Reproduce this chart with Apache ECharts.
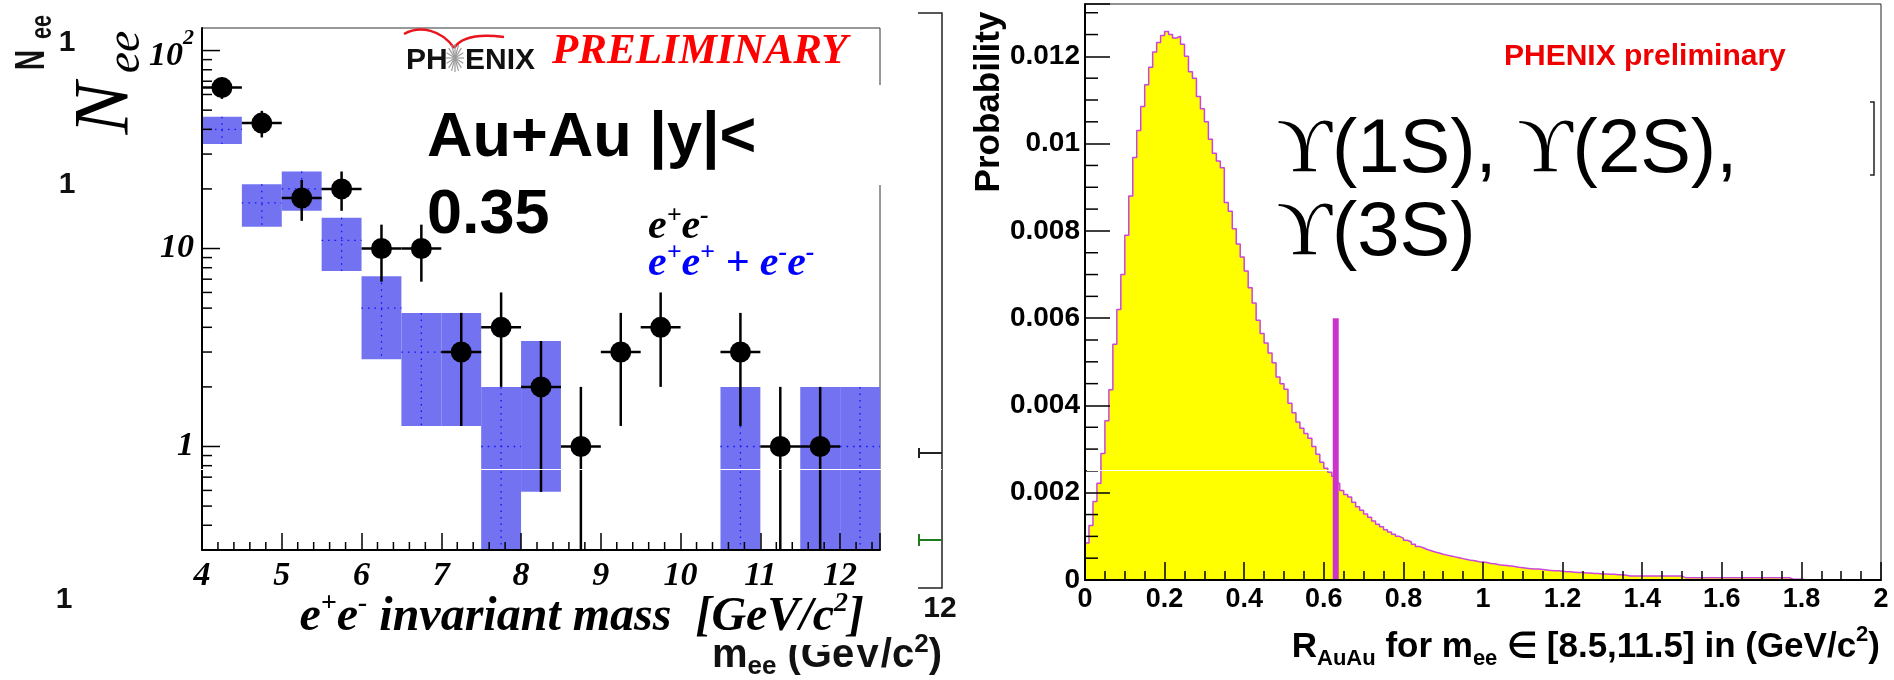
<!DOCTYPE html>
<html>
<head>
<meta charset="utf-8">
<script src="https://cdn.jsdelivr.net/npm/echarts@6/dist/echarts.min.js"></script>
<style>
html,body{margin:0;padding:0;background:#fff;}
#c{width:1894px;height:680px;}
</style>
</head>
<body>
<div id="c"></div>
<script>
// ---------------- Left panel: e+e- invariant mass ----------------
const massPoints = [4.25,4.75,5.25,5.75,6.25,6.75,7.25,7.75,8.25,8.75,9.25,9.75,10.75,11.25,11.75];
const oppositeSignCounts = [65,43,18,20,10,10,3,4,2,1,3,4,3,1,1];
const oppositeSignErrLow = [57,36.4,13.8,15.5,6.8,6.8,1.27,2,0.59,0,1.27,2,1.27,0,0];
const oppositeSignErrHigh = [73,49.6,22.2,24.5,13.2,13.2,4.73,6,3.41,2,4.73,6,4.73,2,2];
const massHalfBin = 0.25;

const likeSignBinLow = [4.0,4.5,5.0,5.5,6.0,6.5,7.0,7.5,8.0,10.5,11.5,12.0];
const likeSignCounts = [40,17,20,11,5,3,3,1,2,1,1,1];
const likeSignBandLow = [33.7,12.9,15.5,7.7,2.76,1.27,1.27,0,0.59,0,0,0];
const likeSignBandHigh = [46.3,21.1,24.5,14.3,7.24,4.73,4.73,2,3.41,2,2,2];
const likeSignBinWidth = 0.5;

const massTickValues = [4,5,6,7,8,9,10,11,12];
const massTickLabels = ['4','5','6','7','8','9','10','11','12'];
const massMinorTicks = [4.2,4.4,4.6,4.8,5.2,5.4,5.6,5.8,6.2,6.4,6.6,6.8,7.2,7.4,7.6,7.8,8.2,8.4,8.6,8.8,
  9.2,9.4,9.6,9.8,10.2,10.4,10.6,10.8,11.2,11.4,11.6,11.8,12.2,12.4];
const countMajorTicks = [1,10,100];
const countTickLabels = ['{b|1}','{b|10}','{b2|10}{s|2}'];
const countMinorTicks = [0.4,0.5,0.6,0.7,0.8,0.9,2,3,4,5,6,7,8,9,20,30,40,50,60,70,80,90];
const countMin = 0.3, countMax = 130;
const massMin = 4, massMax = 12.5;

// ---------------- Right panel: R_AuAu probability ----------------
const raaBinStart = 0, raaBinWidth = 0.01, raaEnd = 2;
const raaProbability = [
  0.00085,0.00125,0.00180,0.00222,0.00290,0.00365,0.00436,0.00540,0.00620,0.00700,
  0.00790,0.00880,0.00968,0.01030,0.01085,0.01135,0.01175,0.01210,0.01232,0.01248,
  0.01257,0.01250,0.01242,0.01246,0.01228,0.01200,0.01165,0.01150,0.01108,0.01080,
  0.01050,0.01010,0.00978,0.00960,0.00945,0.00865,0.00845,0.00805,0.00770,0.00740,
  0.00708,0.00670,0.00635,0.00595,0.00565,0.00543,0.00520,0.00498,0.00465,0.00450,
  0.00437,0.00405,0.00383,0.00362,0.00348,0.00336,0.00325,0.00306,0.00288,0.00270,
  0.00256,0.00247,0.00238,0.00222,0.00205,0.00196,0.00190,0.00178,0.00168,0.00160,
  0.00151,0.00144,0.00135,0.00128,0.00122,0.00115,0.00110,0.00105,0.00100,0.00096,
  0.00091,0.00087,0.00082,0.00077,0.00074,0.00070,0.00067,0.00064,0.00062,0.00059,
  0.00057,0.00055,0.00053,0.00051,0.00049,0.00047,0.00045,0.00044,0.00042,0.00041,
  0.00040,0.00038,0.00037,0.00035,0.00034,0.00033,0.00032,0.00031,0.00029,0.00028,
  0.00027,0.00026,0.00025,0.00025,0.00024,0.00023,0.00022,0.00021,0.00021,0.00020,
  0.00019,0.00019,0.00018,0.00017,0.00017,0.00016,0.00016,0.00015,0.00015,0.00014,
  0.00014,0.00013,0.00013,0.00012,0.00012,0.00011,0.00009,0.00009,0.00009,0.00009,
  0.00009,0.00009,0.00009,0.00009,0.00009,0.00009,0.00009,0.00009,0.00009,0.00009,
  0.00005,0.00005,0.00005,0.00005,0.00005,0.00005,0.00005,0.00005,0.00005,0.00005,
  0.00005,0.00005,0.00005,0.00005,0.00005,0.00005,0.00005,0.00005,0.00005,0.00005,
  0.00005,0.00005,0.00005,0.00005,0.00005,0.00005,0.00005,0.00002,0.00002,0.00002,
  0.000005,0.000005,0.000005,0.000005,0.000005,0.000005,0.000005,0.000005,0.000005,0.000005,
  0.000005,0.000005,0.000005,0.000005,0.000005,0.000005,0.000005,0.000005,0.000005,0.000005
];
const raaCut = 0.63, raaCutHeight = 0.006;
const probMinorTicks = [0.0005,0.001,0.0015,0.0025,0.003,0.0035,0.0045,0.005,0.0055,0.0065,0.007,0.0075,
  0.0085,0.009,0.0095,0.0105,0.011,0.0115,0.0125,0.013];
const probMax = 0.0132, probInterval = 0.002;

// ---------------- rendering ----------------
const SERIF = "'Liberation Serif','Times New Roman',Times,serif";
const SANS = "'Liberation Sans',Arial,Helvetica,sans-serif";

const chart = echarts.init(document.getElementById('c'), null, {renderer: 'canvas'});

function tickSeries(xi, yi, data, dir, len, lw) {
  return {
    type: 'custom', xAxisIndex: xi, yAxisIndex: yi, silent: true, z: 9,
    data: data,
    renderItem: function (params, api) {
      const p = api.coord([api.value(0), api.value(1)]);
      const shape = dir === 'y'
        ? {x1: p[0], y1: p[1], x2: p[0] + len, y2: p[1]}
        : {x1: p[0], y1: p[1], x2: p[0], y2: p[1] - len};
      return {type: 'line', shape: shape, style: {stroke: '#000', lineWidth: lw}};
    }
  };
}

const histData = raaProbability.map((v, i) => [+(raaBinStart + i * raaBinWidth).toFixed(3), v]);
histData.push([raaEnd, raaProbability[raaProbability.length - 1]]);

const ptData = massPoints.map((m, i) => [m, oppositeSignCounts[i], oppositeSignErrLow[i], oppositeSignErrHigh[i]]);
const boxData = likeSignBinLow.map((lo, i) => [lo, likeSignCounts[i], likeSignBandLow[i], likeSignBandHigh[i]]);

const titleT = {fontFamily: SERIF, fontStyle: 'italic', fontWeight: 'bold', fill: '#000'};

const graphicEls = [
  // underlying-figure remnants (far left)
  {type: 'text', x: 32, y: 60, rotation: Math.PI / 2, scaleX: 0.67, z: 60,
    style: {text: 'N', font: 'bold 42px ' + SANS, fill: '#111', align: 'center', verticalAlign: 'middle'}},
  {type: 'text', x: 43, y: 27, rotation: Math.PI / 2, scaleX: 0.72, z: 60,
    style: {text: 'ee', font: 'bold 30px ' + SANS, fill: '#111', align: 'center', verticalAlign: 'middle'}},
  {type: 'text', x: 67, y: 43, z: 55, style: {text: '1', font: 'bold 30px ' + SANS, fill: '#111', align: 'center', verticalAlign: 'middle'}},
  {type: 'text', x: 67, y: 185, z: 55, style: {text: '1', font: 'bold 30px ' + SANS, fill: '#111', align: 'center', verticalAlign: 'middle'}},
  {type: 'text', x: 64, y: 600, z: 65, style: {text: '1', font: 'bold 30px ' + SANS, fill: '#111', align: 'center', verticalAlign: 'middle'}},
  // left y title N_ee
  {type: 'text', x: 106.5, y: 108.5, rotation: Math.PI / 2, z: 60,
    style: {text: 'N', font: 'italic 78px ' + SERIF, fill: '#000', align: 'center', verticalAlign: 'middle'}},
  {type: 'text', x: 126.4, y: 52, rotation: Math.PI / 2, z: 60,
    style: {text: 'ee', font: 'italic 48px ' + SERIF, fill: '#000', align: 'center', verticalAlign: 'middle'}},
  // PHENIX logo
  {type: 'text', x: 406, y: 60.7, z: 60, style: {text: 'PH', font: 'bold 30px ' + SANS, fill: '#111', align: 'left', verticalAlign: 'middle'}},
  {type: 'text', x: 465, y: 60.7, z: 60, style: {text: 'ENIX', font: 'bold 30px ' + SANS, fill: '#111', align: 'left', verticalAlign: 'middle'}},
  {type: 'bezierCurve', z: 60, shape: {x1: 404, y1: 34, cpx1: 420, cpy1: 25, cpx2: 442, cpy2: 30, x2: 454, y2: 48},
    style: {stroke: '#e8141e', lineWidth: 2.5, fill: null}},
  {type: 'bezierCurve', z: 60, shape: {x1: 454, y1: 48, cpx1: 462, cpy1: 36, cpx2: 482, cpy2: 34, x2: 504, y2: 37},
    style: {stroke: '#e8141e', lineWidth: 2.5, fill: null}},
  {type: 'text', x: 552, y: 51.7, z: 60, style: {text: 'PRELIMINARY', font: 'italic bold 43px ' + SERIF, fill: '#ff0000', align: 'left', verticalAlign: 'middle'}},
  // white box + Au+Au label
  {type: 'rect', z: 50, shape: {x: 424, y: 85, width: 462, height: 100}, style: {fill: '#fff'}},
  {type: 'text', x: 427, y: 138.5, z: 60, style: {text: 'Au+Au |y|<', font: 'bold 63px ' + SANS, fill: '#000', align: 'left', verticalAlign: 'middle'}},
  {type: 'text', x: 427, y: 215.5, z: 60, style: {text: '0.35', font: 'bold 63px ' + SANS, fill: '#000', align: 'left', verticalAlign: 'middle'}},
  // legend
  {type: 'text', x: 648, y: 203, z: 60, style: {
    text: '{t|e}{s|+}{t|e}{s|-}', align: 'left', verticalAlign: 'top',
    rich: {
      t: Object.assign({}, titleT, {fontSize: 42, lineHeight: 48, verticalAlign: 'middle'}),
      s: Object.assign({}, titleT, {fontSize: 26, lineHeight: 26, verticalAlign: 'top'})
    }}},
  {type: 'text', x: 648, y: 240, z: 60, style: {
    text: '{t|e}{s|+}{t|e}{s|+}{t| + e}{s|-}{t|e}{s|-}', align: 'left', verticalAlign: 'top',
    rich: {
      t: Object.assign({}, titleT, {fill: '#0000ff', fontSize: 42, lineHeight: 48, verticalAlign: 'middle'}),
      s: Object.assign({}, titleT, {fill: '#0000ff', fontSize: 26, lineHeight: 26, verticalAlign: 'top'})
    }}},
  // underlying second frame remnants
  {type: 'polyline', z: 30, shape: {points: [[918, 13], [942, 13], [942, 588], [918, 588]]}, style: {stroke: '#222', lineWidth: 1.5, fill: null}},
  {type: 'line', z: 30, shape: {x1: 918, y1: 453, x2: 942, y2: 453}, style: {stroke: '#222', lineWidth: 2}},
  {type: 'line', z: 30, shape: {x1: 919, y1: 448, x2: 919, y2: 458}, style: {stroke: '#222', lineWidth: 2}},
  {type: 'line', z: 30, shape: {x1: 918, y1: 540, x2: 942, y2: 540}, style: {stroke: '#1e7b1e', lineWidth: 2}},
  {type: 'line', z: 30, shape: {x1: 919, y1: 534, x2: 919, y2: 546}, style: {stroke: '#1e7b1e', lineWidth: 2}},
  {type: 'text', x: 940, y: 608.7, z: 30, style: {text: '12', font: 'bold 30px ' + SANS, fill: '#111', align: 'center', verticalAlign: 'middle'}},
  {type: 'text', x: 942, y: 631.6, z: 30, style: {
    text: '{a|m}{sb|ee}{a| (GeV/c}{sp|2}{a|)}', align: 'right', verticalAlign: 'top',
    rich: {
      a: {fontFamily: SANS, fontWeight: 'bold', fontSize: 40, lineHeight: 48, verticalAlign: 'middle', fill: '#111'},
      sb: {fontFamily: SANS, fontWeight: 'bold', fontSize: 26, lineHeight: 20, verticalAlign: 'bottom', fill: '#111'},
      sp: {fontFamily: SANS, fontWeight: 'bold', fontSize: 26, lineHeight: 18, verticalAlign: 'top', fill: '#111'}
    }}},
  {type: 'rect', z: 40, shape: {x: 690, y: 596, width: 194, height: 49}, style: {fill: '#fff'}},
  // left x title
  {type: 'text', x: 864, y: 590, z: 60, style: {
    text: '{t|e}{s|+}{t|e}{s|-}{t| invariant mass  [GeV/c}{s|2}{t|]}', align: 'right', verticalAlign: 'top',
    rich: {
      t: Object.assign({}, titleT, {fontSize: 48, lineHeight: 56, verticalAlign: 'middle'}),
      s: Object.assign({}, titleT, {fontSize: 28, lineHeight: 28, verticalAlign: 'top'})
    }}},
  // white scan line artifacts
  {type: 'line', z: 70, shape: {x1: 118, y1: 469.5, x2: 942, y2: 469.5}, style: {stroke: '#fff', lineWidth: 1}},
  {type: 'line', z: 70, shape: {x1: 1087, y1: 470.5, x2: 1333, y2: 470.5}, style: {stroke: '#fff', lineWidth: 1}},
  // right panel texts
  {type: 'text', x: 989, y: 102, rotation: Math.PI / 2, z: 60,
    style: {text: 'Probability', font: 'bold 35px ' + SANS, fill: '#000', align: 'center', verticalAlign: 'middle'}},
  {type: 'text', x: 1504, y: 56.7, z: 60, style: {text: 'PHENIX preliminary', font: 'bold 30px ' + SANS, fill: '#ee0000', align: 'left', verticalAlign: 'middle'}},
  {type: 'text', x: 1277, y: 151.4, z: 60, style: {
    text: '{u|ϒ}{t|(1S), }{u|ϒ}{t|(2S),}', align: 'left', verticalAlign: 'middle',
    rich: {
      u: {fontFamily: SERIF, fontSize: 76, lineHeight: 84, verticalAlign: 'middle', fill: '#000'},
      t: {fontFamily: SANS, fontSize: 76, lineHeight: 84, verticalAlign: 'middle', fill: '#000'}
    }}},
  {type: 'text', x: 1277, y: 234.4, z: 60, style: {
    text: '{u|ϒ}{t|(3S)}', align: 'left', verticalAlign: 'middle',
    rich: {
      u: {fontFamily: SERIF, fontSize: 76, lineHeight: 84, verticalAlign: 'middle', fill: '#000'},
      t: {fontFamily: SANS, fontSize: 76, lineHeight: 84, verticalAlign: 'middle', fill: '#000'}
    }}},
  {type: 'polyline', z: 30, shape: {points: [[1870, 102], [1874, 102], [1874, 175], [1870, 175]]}, style: {stroke: '#222', lineWidth: 1.5, fill: null}},
  {type: 'text', x: 1880, y: 624, z: 60, style: {
    text: '{a|R}{sb|AuAu}{a| for m}{sb|ee}{a| ∈ [8.5,11.5] in (GeV/c}{sp|2}{a|)}', align: 'right', verticalAlign: 'top',
    rich: {
      a: {fontFamily: SANS, fontWeight: 'bold', fontSize: 35, lineHeight: 46, verticalAlign: 'middle', fill: '#000'},
      sb: {fontFamily: SANS, fontWeight: 'bold', fontSize: 22, lineHeight: 22, verticalAlign: 'bottom', fill: '#000'},
      sp: {fontFamily: SANS, fontWeight: 'bold', fontSize: 22, lineHeight: 26, verticalAlign: 'top', fill: '#000'}
    }}}
];

// PHENIX star
(function () {
  const cx = 455, cy = 58;
  for (let k = 0; k < 8; k++) {
    const a = k * Math.PI / 8;
    graphicEls.push({type: 'line', z: 60,
      shape: {x1: cx - 9 * Math.cos(a), y1: cy - 14 * Math.sin(a), x2: cx + 9 * Math.cos(a), y2: cy + 14 * Math.sin(a)},
      style: {stroke: '#9a9a9a', lineWidth: 1.2}});
  }
})();

function isMult(v, step) {
  const r = v / step;
  return Math.abs(r - Math.round(r)) < 1e-6;
}

const option = {
  animation: false,
  backgroundColor: '#fff',
  grid: [
    {left: 202, top: 28, width: 678, height: 522, show: true, borderColor: '#333', borderWidth: 1, outerBoundsMode: 'none', containLabel: false},
    {left: 1085, top: 4, width: 796, height: 576, show: true, borderColor: '#222', borderWidth: 1, outerBoundsMode: 'none', containLabel: false}
  ],
  xAxis: [
    {type: 'value', gridIndex: 0, min: massMin, max: massMax, interval: 1, z: 10,
      axisLine: {show: true, onZero: false, lineStyle: {color: '#000', width: 2}},
      axisTick: {show: true, inside: true, length: 17, lineStyle: {color: '#000', width: 1.5}},
      splitLine: {show: false},
      axisLabel: {margin: 9, color: '#000', fontFamily: SERIF, fontStyle: 'italic', fontWeight: 'bold', fontSize: 34,
        formatter: function (v) { const i = massTickValues.findIndex(t => Math.abs(t - v) < 1e-6); return i >= 0 ? massTickLabels[i] : ''; }}
    },
    {type: 'value', gridIndex: 1, min: 0, max: 2, interval: 0.2, z: 10,
      axisLine: {show: true, onZero: false, lineStyle: {color: '#000', width: 2}},
      axisTick: {show: true, inside: true, length: 18, lineStyle: {color: '#000', width: 1.5}},
      minorTick: {show: true, splitNumber: 4, length: 9, lineStyle: {color: '#000', width: 1.5}},
      splitLine: {show: false}, minorSplitLine: {show: false},
      axisLabel: {margin: 6, color: '#000', fontFamily: SANS, fontWeight: 'bold', fontSize: 27,
        formatter: function (v) { return String(parseFloat(v.toFixed(2))); }}
    }
  ],
  yAxis: [
    {type: 'log', logBase: 10, gridIndex: 0, min: countMin, max: countMax, z: 10,
      axisLine: {show: true, lineStyle: {color: '#000', width: 2}},
      axisTick: {show: false},
      splitLine: {show: false},
      axisLabel: {margin: 8, color: '#000',
        formatter: function (v) {
          const i = countMajorTicks.findIndex(t => Math.abs(Math.log10(t) - Math.log10(v)) < 1e-4);
          return i >= 0 ? countTickLabels[i] : '';
        },
        rich: {
          b: {fontFamily: SERIF, fontStyle: 'italic', fontWeight: 'bold', fontSize: 34, lineHeight: 40, verticalAlign: 'middle', color: '#000'},
          b2: {fontFamily: SERIF, fontStyle: 'italic', fontWeight: 'bold', fontSize: 34, lineHeight: 34, verticalAlign: 'bottom', color: '#000'},
          s: {fontFamily: SERIF, fontStyle: 'italic', fontWeight: 'bold', fontSize: 22, lineHeight: 46, verticalAlign: 'top', color: '#000'}
        }
      }
    },
    {type: 'value', gridIndex: 1, min: 0, max: probMax, interval: probInterval, z: 10,
      axisLine: {show: true, onZero: false, lineStyle: {color: '#000', width: 2}},
      axisTick: {show: true, inside: true, length: 25, lineStyle: {color: '#000', width: 1.5}},
      splitLine: {show: false},
      axisLabel: {margin: 5, color: '#000', fontFamily: SANS, fontWeight: 'bold', fontSize: 28,
        formatter: function (v) {
          if (Math.abs(v) < 1e-12) return '0';
          return isMult(v, probInterval) ? String(parseFloat(v.toFixed(4))) : '';
        }}
    }
  ],
  series: [
    // like-sign bands
    {type: 'custom', xAxisIndex: 0, yAxisIndex: 0, z: 2, silent: true, encode: {x: 0, y: 1},
      data: boxData,
      renderItem: function (params, api) {
        const lo = api.value(0), val = api.value(1);
        const bl = Math.max(api.value(2), countMin), bh = Math.min(api.value(3), countMax);
        const p1 = api.coord([lo, bh]);
        const p2 = api.coord([lo + likeSignBinWidth, bl]);
        const pc = api.coord([lo + likeSignBinWidth / 2, val]);
        const dot = {stroke: '#1010ff', lineWidth: 1.3, lineDash: [1.5, 5]};
        return {type: 'group', children: [
          {type: 'rect', shape: {x: p1[0], y: p1[1], width: p2[0] - p1[0], height: p2[1] - p1[1]}, style: {fill: '#7373f2'}},
          {type: 'line', shape: {x1: p1[0], y1: pc[1], x2: p2[0], y2: pc[1]}, style: dot},
          {type: 'line', shape: {x1: pc[0], y1: p1[1], x2: pc[0], y2: p2[1]}, style: dot}
        ]};
      }
    },
    // opposite-sign error bars
    {type: 'custom', xAxisIndex: 0, yAxisIndex: 0, z: 3, silent: true, encode: {x: 0, y: 1},
      data: ptData,
      renderItem: function (params, api) {
        const x = api.value(0), y = api.value(1);
        const lo = Math.max(api.value(2), countMin), hi = Math.min(api.value(3), countMax);
        const top = api.coord([x, hi]), bot = api.coord([x, lo]);
        const l = api.coord([Math.max(x - massHalfBin, massMin), y]), r = api.coord([x + massHalfBin, y]);
        const st = {stroke: '#000', lineWidth: 2.5};
        return {type: 'group', children: [
          {type: 'line', shape: {x1: top[0], y1: top[1], x2: bot[0], y2: bot[1]}, style: st},
          {type: 'line', shape: {x1: l[0], y1: l[1], x2: r[0], y2: r[1]}, style: st}
        ]};
      }
    },
    // opposite-sign points
    {type: 'scatter', xAxisIndex: 0, yAxisIndex: 0, z: 4, silent: true,
      data: massPoints.map((m, i) => [m, oppositeSignCounts[i]]),
      symbol: 'circle', symbolSize: 21, itemStyle: {color: '#000', opacity: 1}},
    // ticks left panel
    tickSeries(0, 0, countMajorTicks.map(v => [massMin, v]), 'y', 18, 1.5),
    tickSeries(0, 0, countMinorTicks.map(v => [massMin, v]), 'y', 10, 1.5),
    tickSeries(0, 0, massMinorTicks.map(v => [v, countMin]), 'x', 8, 1.5),
    // right histogram
    {type: 'line', xAxisIndex: 1, yAxisIndex: 1, z: 2, silent: true,
      data: histData, step: 'end', showSymbol: false, symbol: 'none',
      lineStyle: {color: '#cc44dd', width: 1.5},
      areaStyle: {color: '#ffff00', opacity: 1}},
    // cut line
    {type: 'line', xAxisIndex: 1, yAxisIndex: 1, z: 5, silent: true,
      data: [[raaCut, 0], [raaCut, raaCutHeight]], showSymbol: false, symbol: 'none',
      lineStyle: {color: '#cc33cc', width: 6}},
    tickSeries(1, 1, probMinorTicks.map(v => [0, v]), 'y', 13, 1.5)
  ],
  graphic: {elements: graphicEls}
};

chart.setOption(option);
</script>
</body>
</html>
